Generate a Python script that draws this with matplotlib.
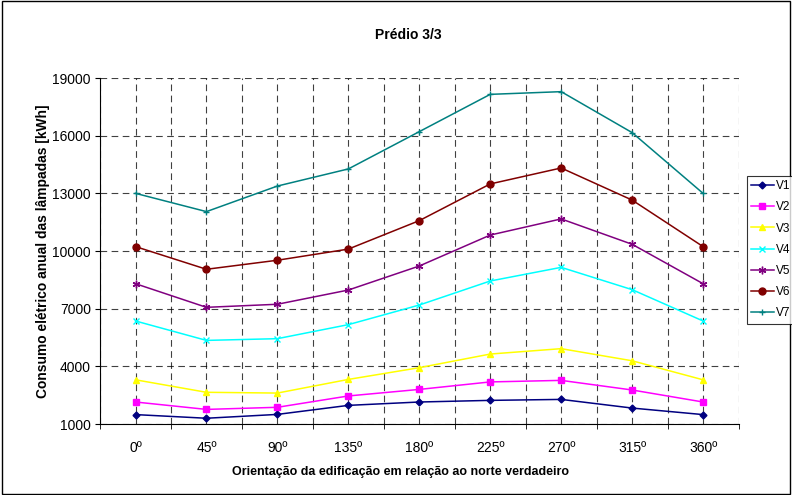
import matplotlib.pyplot as plt
from matplotlib.patches import Rectangle

plt.rcParams["font.family"] = ["Liberation Sans", "DejaVu Sans"]

# --- Data ---
orientacoes = ["0º", "45º", "90º", "135º", "180º", "225º", "270º", "315º", "360º"]
v1 = [1490, 1300, 1500, 1970, 2145, 2230, 2280, 1830, 1490]
v2 = [2145, 1760, 1870, 2460, 2800, 3190, 3270, 2770, 2145]
v3 = [3300, 2650, 2610, 3320, 3930, 4640, 4920, 4290, 3300]
v4 = [6360, 5350, 5440, 6170, 7190, 8440, 9150, 7990, 6360]
v5 = [8300, 7070, 7230, 7970, 9220, 10830, 11670, 10350, 8300]
v6 = [10230, 9050, 9520, 10100, 11580, 13490, 14320, 12650, 10230]
v7 = [13000, 12050, 13380, 14270, 16210, 18150, 18290, 16160, 13000]
series = ["V1", "V2", "V3", "V4", "V5", "V6", "V7"]
y_ticks = [1000, 4000, 7000, 10000, 13000, 16000, 19000]

styles = [
    ("#000080", "D", 3.5),
    ("#FF00FF", "s", 4.5),
    ("#FFFF00", "^", 4.5),
    ("#00FFFF", "x", 4.5),
    ("#800080", (6, 2, 0), 5.5),
    ("#800000", "o", 5),
    ("#008080", "+", 5),
]

fig = plt.figure(figsize=(7.92, 4.95), dpi=100)
ax = fig.add_axes([0.1263, 0.1434, 0.8062, 0.699])

x = list(range(len(orientacoes)))
for name, vals, (c, m, ms) in zip(series, [v1, v2, v3, v4, v5, v6, v7], styles):
    ax.plot(x, vals, color=c, marker=m, markersize=ms, linewidth=1.1,
            markeredgewidth=1.0, label=name, zorder=3)

ax.set_xlim(-0.5, len(orientacoes) - 0.5)
ax.set_ylim(1000, 19000)
ax.set_yticks(y_ticks)
ax.set_xticks(x)
ax.set_xticklabels(orientacoes)
ax.set_xticks([i - 0.5 for i in range(len(orientacoes) + 1)], minor=True)
ax.tick_params(axis="x", which="major", length=0, labelsize=10, pad=12.5)
ax.tick_params(axis="x", which="minor", length=3.6, direction="out")
ax.tick_params(axis="y", length=3.6, direction="out", labelsize=10, pad=3)

ax.grid(True, which="both", axis="x", color="black", linestyle=(0, (6, 4)), linewidth=0.8, alpha=0.75)
ax.grid(True, which="major", axis="y", color="black", linestyle=(0, (6, 4)), linewidth=0.8, alpha=0.75)
ax.set_axisbelow(True)

ax.spines["top"].set_visible(False)
ax.spines["right"].set_visible(False)

fig.text(0.515, 0.929, "Prédio 3/3", ha="center", va="center", fontsize=10, fontweight="bold")
fig.text(0.506, 0.047, "Orientação da edificação em relação ao norte verdadeiro",
         ha="center", va="center", fontsize=9.0, fontweight="bold")
fig.text(0.054, 0.493, "Consumo elétrico anual das lâmpadas [kWh]",
         ha="center", va="center", rotation=90, fontsize=9.9, fontweight="bold")

leg = fig.legend(loc="upper left", bbox_to_anchor=(747 / 792, 1 - 176 / 495),
                 fontsize=8.5, frameon=True, fancybox=False, edgecolor="black",
                 labelspacing=0.78, handlelength=1.9, handletextpad=0.2,
                 borderpad=0.35, borderaxespad=0)
leg.get_frame().set_linewidth(0.8)

fig.patches.append(Rectangle((0.002, 0.003), 0.996, 0.994, transform=fig.transFigure,
                             fill=False, edgecolor="black", linewidth=1.0))

plt.savefig("out.png", dpi=100)
